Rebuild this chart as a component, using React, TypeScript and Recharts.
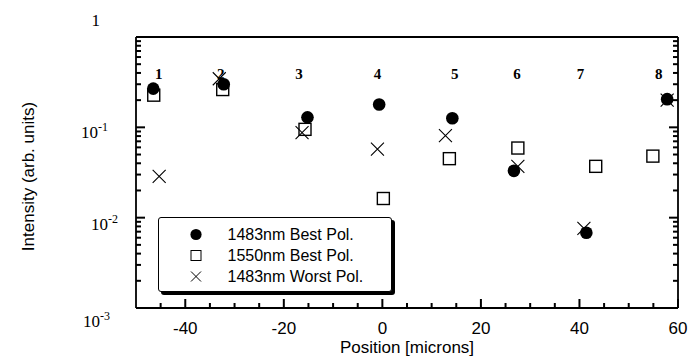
import React from 'react';
import { ScatterChart, Scatter, XAxis, YAxis, Legend } from 'recharts';

// ---- data (position in microns, intensity in arb. units) ----
const series1483Best = [
  { x: -46.5, y: 0.268 },
  { x: -32.2, y: 0.3 },
  { x: -15.2, y: 0.129 },
  { x: -0.65, y: 0.179 },
  { x: 14.2, y: 0.126 },
  { x: 26.7, y: 0.033 },
  { x: 41.4, y: 0.0068 },
  { x: 57.8, y: 0.205 },
];

const series1550Best = [
  { x: -46.4, y: 0.227 },
  { x: -32.4, y: 0.262 },
  { x: -15.7, y: 0.095 },
  { x: 0.2, y: 0.0163 },
  { x: 13.6, y: 0.045 },
  { x: 27.5, y: 0.059 },
  { x: 43.3, y: 0.037 },
  { x: 54.9, y: 0.048 },
];

const series1483Worst = [
  { x: -45.3, y: 0.0287 },
  { x: -33.1, y: 0.345 },
  { x: -16.3, y: 0.0875 },
  { x: -1.0, y: 0.0573 },
  { x: 12.8, y: 0.081 },
  { x: 27.5, y: 0.037 },
  { x: 40.9, y: 0.0076 },
  { x: 57.8, y: 0.2 },
];

const positionLabels = [
  { x: -45.4, y: 0.39, label: '1' },
  { x: -32.8, y: 0.39, label: '2' },
  { x: -16.9, y: 0.39, label: '3' },
  { x: -1.0, y: 0.39, label: '4' },
  { x: 14.7, y: 0.39, label: '5' },
  { x: 27.3, y: 0.39, label: '6' },
  { x: 40.2, y: 0.39, label: '7' },
  { x: 56.1, y: 0.39, label: '8' },
];

const seriesNames = ['1483nm Best Pol.', '1550nm Best Pol.', '1483nm Worst Pol.'];

const xDomain = [-50, 60];
const xTicks = [-45, -40, -35, -30, -25, -20, -15, -10, -5, 0, 5, 10, 15, 20, 25, 30, 35, 40, 45, 50, 55, 60];
const xTickLabels = [-40, -20, 0, 20, 40, 60];

const yDomain = [0.001, 1];
const yTicks = [
  0.001, 0.002, 0.003, 0.004, 0.005, 0.006, 0.007, 0.008, 0.009,
  0.01, 0.02, 0.03, 0.04, 0.05, 0.06, 0.07, 0.08, 0.09,
  0.1, 0.2, 0.3, 0.4, 0.5, 0.6, 0.7, 0.8, 0.9,
  1,
];
const yTickLabels = [
  { value: 1, base: '1', exp: '' },
  { value: 0.1, base: '10', exp: '-1' },
  { value: 0.01, base: '10', exp: '-2' },
  { value: 0.001, base: '10', exp: '-3' },
];

// ---- styling ----
const SANS = "'Liberation Sans', Arial, Helvetica, sans-serif";
const SERIF = "'Liberation Serif', 'Times New Roman', Times, serif";
const TICK_W = 2;
const yLabelNudge: Record<string, { dx: number; dy: number }> = {
  '1': { dx: -36, dy: -11 },
  '0.1': { dx: -28, dy: 10.5 },
  '0.01': { dx: -18, dy: 12 },
  '0.001': { dx: -26, dy: 19 },
};

const isMajorY = (v: number) => yTickLabels.some((t) => Math.abs(t.value - v) < 1e-9);

const CircleShape = (p: any) => <circle cx={p.cx} cy={p.cy} r={6.3} fill="#000" />;
const SquareShape = (p: any) => (
  <rect x={p.cx - 6} y={p.cy - 6} width={12} height={12} fill="#fff" stroke="#000" strokeWidth={1.4} />
);
const XShape = (p: any) => {
  const h = 6.5;
  return (
    <path
      d={`M${p.cx - h},${p.cy - h}L${p.cx + h},${p.cy + h}M${p.cx - h},${p.cy + h}L${p.cx + h},${p.cy - h}`}
      stroke="#000"
      strokeWidth={1.1}
      fill="none"
    />
  );
};
const LabelShape = (p: any) => (
  <text
    x={p.cx}
    y={p.cy}
    textAnchor="middle"
    dominantBaseline="central"
    fontFamily={SERIF}
    fontWeight="bold"
    fontSize={15}
    fill="#000"
  >
    {p.payload.label}
  </text>
);

function BottomTick(p: any) {
  const v = Number(p.payload.value);
  const major = xTickLabels.includes(v);
  return (
    <g>
      <path d={`M${p.x},${p.y}L${p.x},${p.y - (major ? 9 : 5)}`} stroke="#000" strokeWidth={TICK_W} fill="none" />
      {major && (
        <text x={p.x} y={p.y + 26} textAnchor="middle" fontFamily={SANS} fontSize={17} fill="#000">
          {v}
        </text>
      )}
    </g>
  );
}

function TopTick(p: any) {
  return (
    <g>
      <path d={`M${p.x},${p.y}L${p.x},${p.y + 6}`} stroke="#000" strokeWidth={TICK_W} fill="none" />
    </g>
  );
}

function LeftTick(p: any) {
  const v = Number(p.payload.value);
  const major = isMajorY(v);
  const lab = yTickLabels.find((t) => Math.abs(t.value - v) < 1e-9);
  const n = lab ? yLabelNudge[String(lab.value)] : null;
  return (
    <g>
      <path d={`M${p.x},${p.y}L${p.x + (major ? 9 : 5)},${p.y}`} stroke="#000" strokeWidth={TICK_W} fill="none" />
      {lab && n && (
        <text x={p.x + n.dx} y={p.y + n.dy} textAnchor="end" fontFamily={SERIF} fontSize={17} fill="#000">
          {lab.base}
          {lab.exp ? (
            <tspan dy={-7} fontSize={12}>
              {lab.exp}
            </tspan>
          ) : null}
        </text>
      )}
    </g>
  );
}

function RightTick(p: any) {
  const major = isMajorY(Number(p.payload.value));
  return (
    <g>
      <path d={`M${p.x},${p.y}L${p.x - (major ? 9 : 5)},${p.y}`} stroke="#000" strokeWidth={TICK_W} fill="none" />
    </g>
  );
}

const markerFor = (name: string, cx: number, cy: number) => {
  if (name === seriesNames[0]) return <circle cx={cx} cy={cy} r={5.6} fill="#000" />;
  if (name === seriesNames[1])
    return <rect x={cx - 5} y={cy - 5} width={10} height={10} fill="#fff" stroke="#000" strokeWidth={1} />;
  return (
    <path
      d={`M${cx - 5},${cy - 5}L${cx + 5},${cy + 5}M${cx - 5},${cy + 5}L${cx + 5},${cy - 5}`}
      stroke="#000"
      strokeWidth={1}
    />
  );
};

const LegendBox = (props: any) => {
  const payload = props.payload || [];
  const items = seriesNames.filter((n) => payload.some((e: any) => e.value === n));
  return (
    <div
      style={{
        width: 234,
        height: 75,
        boxSizing: 'border-box',
        border: '1.5px solid #000',
        borderRadius: 3,
        boxShadow: '3px 3px 0 #000',
        background: '#fff',
        position: 'relative',
      }}
    >
      <svg width={231} height={72} style={{ position: 'absolute', left: 0, top: 0 }}>
        {items.map((name, i) => {
          const cy = 16.5 + i * 21;
          return (
            <g key={name}>
              {markerFor(name, 37, cy)}
              <text x={68.5} y={cy + 5.7} fontFamily={SANS} fontSize={16} fill="#000">
                {name}
              </text>
            </g>
          );
        })}
      </svg>
    </div>
  );
};

export default function App() {
  return (
    <div style={{ position: 'fixed', left: 0, top: 0, width: 694, height: 356, background: '#fff' }}>
      <ScatterChart width={694} height={356} margin={{ top: 0, right: 0, bottom: 0, left: 0 }}>
        <XAxis
          xAxisId="bottom"
          orientation="bottom"
          type="number"
          dataKey="x"
          domain={xDomain}
          allowDataOverflow
          ticks={xTicks}
          interval={0}
          height={48}
          tickSize={0}
          tickMargin={0}
          axisLine={{ stroke: '#000', strokeWidth: 2 }}
          tick={(p: any) => <BottomTick {...p} />}
          label={{
            content: (lp: any) => {
              const vb = lp.viewBox || {};
              return (
                <text
                  x={vb.x + vb.width / 2}
                  y={vb.y + 45}
                  textAnchor="middle"
                  fontFamily={SANS}
                  fontSize={17}
                  fill="#000"
                >
                  Position [microns]
                </text>
              );
            },
          }}
        />
        <XAxis
          xAxisId="top"
          orientation="top"
          type="number"
          domain={xDomain}
          allowDataOverflow
          ticks={xTicks}
          interval={0}
          height={37}
          tickSize={0}
          tickMargin={0}
          axisLine={{ stroke: '#000', strokeWidth: 1.8 }}
          tick={(p: any) => <TopTick {...p} />}
        />
        <YAxis
          yAxisId="left"
          orientation="left"
          type="number"
          dataKey="y"
          scale="log"
          domain={yDomain}
          allowDataOverflow
          ticks={yTicks}
          interval={0}
          width={136}
          tickSize={0}
          tickMargin={0}
          axisLine={{ stroke: '#000', strokeWidth: 1.8 }}
          tick={(p: any) => <LeftTick {...p} />}
          label={{
            content: (lp: any) => {
              const vb = lp.viewBox || {};
              const cx = vb.x + 28;
              const cy = vb.y + vb.height / 2 + 4;
              return (
                <text
                  x={cx}
                  y={cy}
                  transform={`rotate(-90 ${cx} ${cy})`}
                  textAnchor="middle"
                  dominantBaseline="central"
                  fontFamily={SANS}
                  fontSize={17}
                  fill="#000"
                >
                  Intensity (arb. units)
                </text>
              );
            },
          }}
        />
        <YAxis
          yAxisId="right"
          orientation="right"
          type="number"
          scale="log"
          domain={yDomain}
          allowDataOverflow
          ticks={yTicks}
          interval={0}
          width={16}
          tickSize={0}
          tickMargin={0}
          axisLine={{ stroke: '#000', strokeWidth: 1.8 }}
          tick={(p: any) => <RightTick {...p} />}
        />
        <Legend
          layout="vertical"
          align="center"
          verticalAlign="middle"
          content={<LegendBox />}
          wrapperStyle={{ left: 158, top: 217, width: 237, height: 78 }}
        />
        <Scatter
          name={seriesNames[1]}
          data={series1550Best}
          xAxisId="bottom"
          yAxisId="left"
          shape={SquareShape}
          fill="#000"
          isAnimationActive={false}
        />
        <Scatter
          name={seriesNames[2]}
          data={series1483Worst}
          xAxisId="bottom"
          yAxisId="left"
          shape={XShape}
          fill="#000"
          isAnimationActive={false}
        />
        <Scatter
          name={seriesNames[0]}
          data={series1483Best}
          xAxisId="bottom"
          yAxisId="left"
          shape={CircleShape}
          fill="#000"
          isAnimationActive={false}
        />
        <Scatter
          name="labels"
          data={positionLabels}
          xAxisId="bottom"
          yAxisId="left"
          shape={LabelShape}
          legendType="none"
          isAnimationActive={false}
        />
      </ScatterChart>
    </div>
  );
}
